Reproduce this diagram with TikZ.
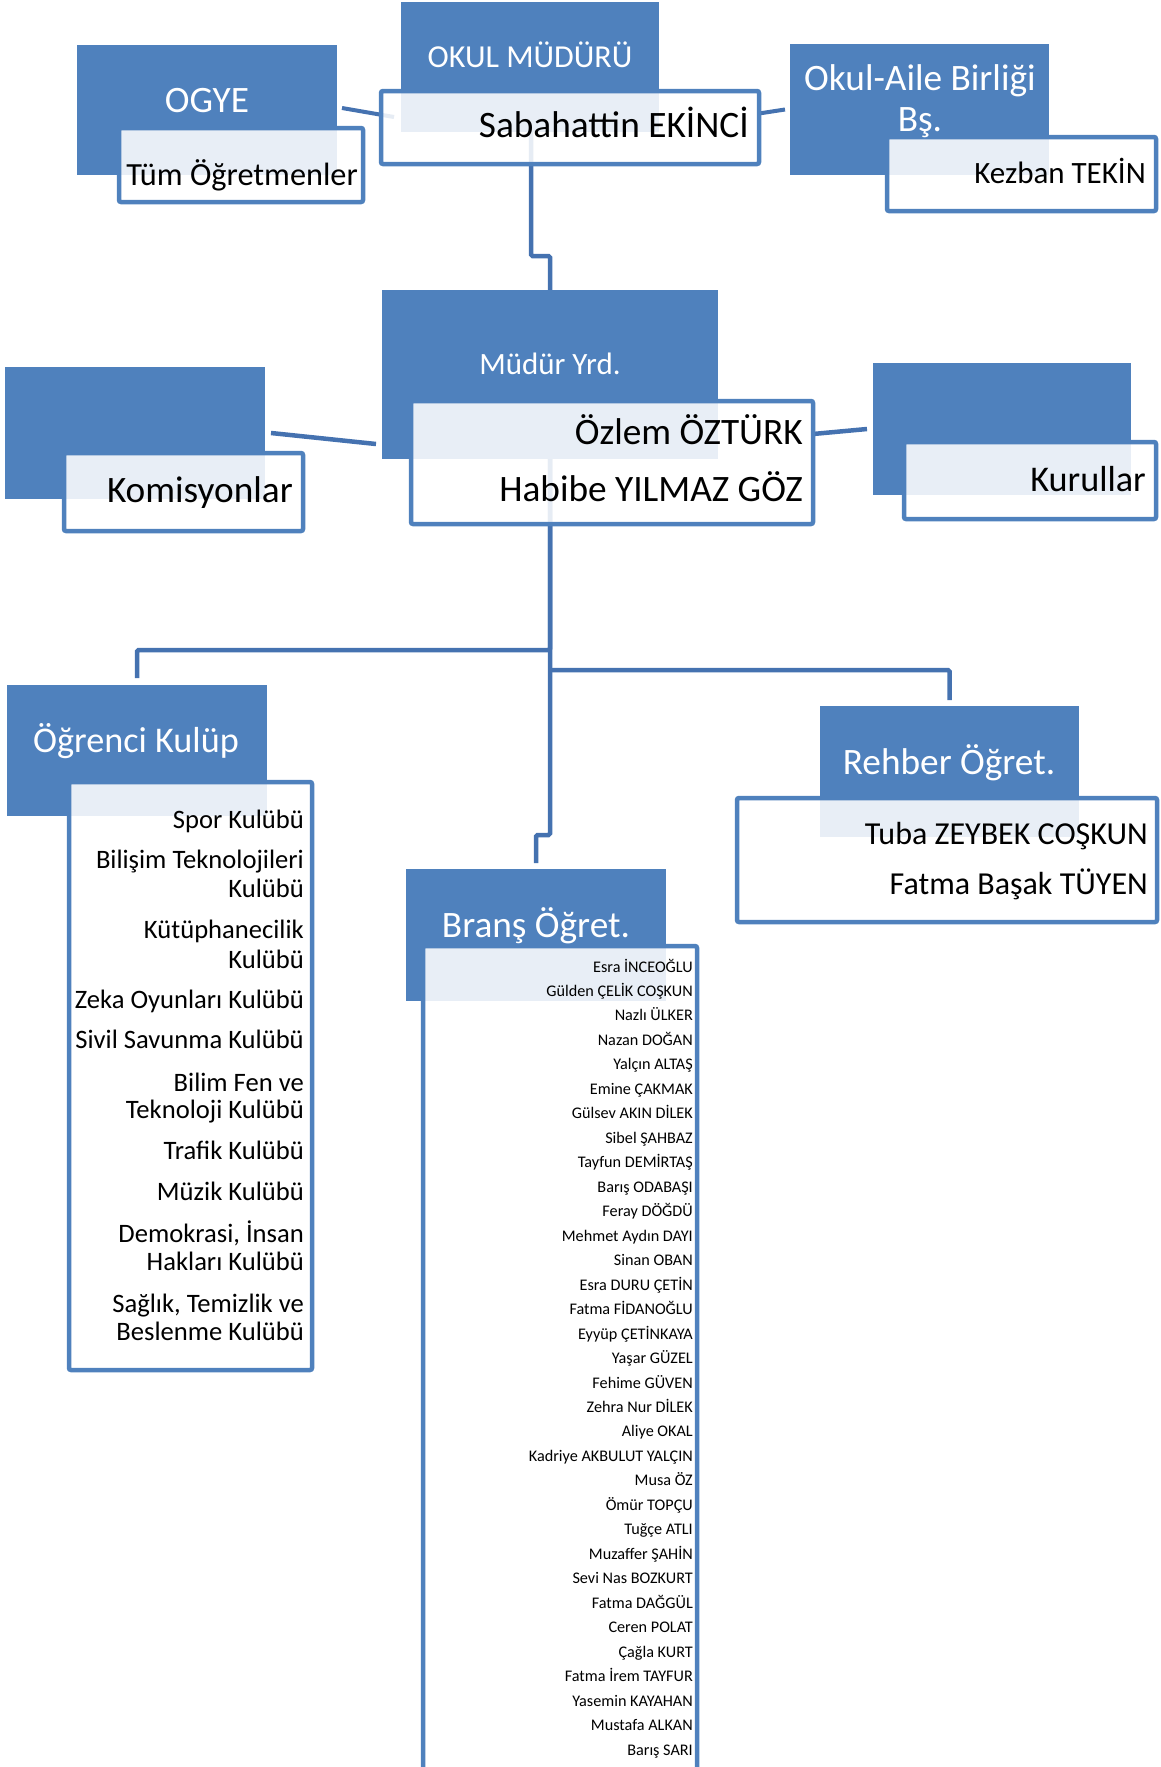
\documentclass[tikz,border=0pt]{standalone}
\usepackage{fontspec}
\setmainfont{Carlito}
\usetikzlibrary{calc,backgrounds}
\definecolor{boxblue}{RGB}{79,129,189}
\definecolor{linkblue}{RGB}{69,114,176}
\newcommand\fsz[1]{\fontsize{#1}{#1}\selectfont}
\newcommand\bx[6]{\node[#1, minimum width={#4-#2}, minimum height={#5-#3}] (#6) at (#2,#3) {};}
\begin{document}
\begin{tikzpicture}[x=1pt,y=-1pt,
  bluebox/.style={fill=boxblue, draw=none, inner sep=0, outer sep=0, anchor=north west},
  whitebox/.style={fill=white, fill opacity=0.87, draw=boxblue, draw opacity=1, line width=4.5pt, rounded corners=2pt, inner sep=0, outer sep=0, anchor=north west},
  link/.style={draw=linkblue, line width=4.5pt, rounded corners=1.5pt},
  head/.style={text=white, inner sep=0, anchor=base},
  txtr/.style={text=black, inner sep=0, anchor=base east},
  club/.style={txtr, font=\fsz{26.6}},
  teacher/.style={txtr, font=\fsz{16.2}}
]
\useasboundingbox (0,0) rectangle (1161,1767);
\clip (0,0) rectangle (1161,1767);
% blue boxes
\bx{bluebox}{401}{2}{659}{132}{okul}
\bx{bluebox}{77}{45}{337}{175}{ogye}
\bx{bluebox}{790}{44}{1049}{175}{oab}
\bx{bluebox}{5}{367}{265}{499}{kom}
\bx{bluebox}{382}{290}{718}{459}{mudur}
\bx{bluebox}{873}{363}{1131}{495}{kur}
\bx{bluebox}{7}{685}{267}{816}{ogr}
\bx{bluebox}{820}{706}{1079}{837}{reh}
\bx{bluebox}{406}{869}{666}{1001}{bra}
% white boxes
\bx{whitebox}{381}{91}{759}{164}{sab}
\bx{whitebox}{119}{128}{363}{202}{tum}
\bx{whitebox}{887}{137}{1156}{211}{kez}
\bx{whitebox}{64}{453}{303}{531}{komw}
\bx{whitebox}{411}{401}{813}{524}{oz}
\bx{whitebox}{904}{442}{1156}{519}{kurw}
\bx{whitebox}{69}{782}{312}{1370}{kl}
\bx{whitebox}{737}{798}{1157}{922}{rhw}
\bx{whitebox}{423}{946}{697}{1800}{bn}
% texts
\node[head, font=\fsz{32}] (t-okul) at (530,67) {OKUL MÜDÜRÜ};
\node[txtr, font=\fsz{37.3}] (t-sab) at (749,137) {Sabahattin EKİNCİ};
\node[head, font=\fsz{37.3}] (t-ogye) at (207,112) {OGYE};
\node[txtr, font=\fsz{32.3}] (t-tum) at (358,185) {Tüm Öğretmenler};
\node[head, font=\fsz{37.3}] (t-oab1) at (920,90) {Okul-Aile Birliği};
\node[head, font=\fsz{37.3}] (t-oab2) at (920,131) {Bş.};
\node[txtr, font=\fsz{31}] (t-kez) at (1146,183) {Kezban TEKİN};
\node[head, font=\fsz{31}] (t-mud) at (550,374) {Müdür Yrd.};
\node[txtr, font=\fsz{37.3}] (t-oz1) at (803,444) {Özlem ÖZTÜRK};
\node[txtr, font=\fsz{37.3}] (t-oz2) at (803,501) {Habibe YILMAZ GÖZ};
\node[txtr, font=\fsz{37.3}] (t-kom) at (293,502) {Komisyonlar};
\node[txtr, font=\fsz{36.2}] (t-kur) at (1146,491) {Kurullar};
\node[head, font=\fsz{36.2}] (t-ogr) at (136,752) {Öğrenci Kulüp};
\node[head, font=\fsz{37.3}] (t-reh) at (949,774) {Rehber Öğret.};
\node[txtr, font=\fsz{32}] (t-tuba) at (1148,844) {Tuba ZEYBEK COŞKUN};
\node[txtr, font=\fsz{32}] (t-fat) at (1148,894) {Fatma Başak TÜYEN};
\node[head, font=\fsz{37.3}] (t-bra) at (536,937) {Branş Öğret.};
% clubs
\node[club] (c1) at (304,828) {Spor Kulübü};
\node[club] (c2a) at (304,868) {Bilişim Teknolojileri};
\node[club] (c2b) at (304,897) {Kulübü};
\node[club] (c3a) at (304,938) {Kütüphanecilik};
\node[club] (c3b) at (304,968) {Kulübü};
\node[club] (c4) at (304,1008) {Zeka Oyunları Kulübü};
\node[club] (c5) at (304,1048) {Sivil Savunma Kulübü};
\node[club] (c6a) at (304,1091) {Bilim Fen ve};
\node[club] (c6b) at (304,1118) {Teknoloji Kulübü};
\node[club] (c7) at (304,1159) {Trafik Kulübü};
\node[club] (c8) at (304,1200) {Müzik Kulübü};
\node[club] (c9a) at (304,1242) {Demokrasi, İnsan};
\node[club] (c9b) at (304,1270) {Hakları Kulübü};
\node[club] (c10a) at (304,1312) {Sağlık, Temizlik ve};
\node[club] (c10b) at (304,1340) {Beslenme Kulübü};
% teachers
\foreach \nm [count=\i] in {Esra İNCEOĞLU, Gülden ÇELİK COŞKUN, Nazlı ÜLKER, Nazan DOĞAN, Yalçın ALTAŞ, Emine ÇAKMAK, Gülsev AKIN DİLEK, Sibel ŞAHBAZ, Tayfun DEMİRTAŞ, Barış ODABAŞI, Feray DÖĞDÜ, Mehmet Aydın DAYI, Sinan OBAN, Esra DURU ÇETİN, Fatma FİDANOĞLU, Eyyüp ÇETİNKAYA, Yaşar GÜZEL, Fehime GÜVEN, Zehra Nur DİLEK, Aliye OKAL, Kadriye AKBULUT YALÇIN, Musa ÖZ, Ömür TOPÇU, Tuğçe ATLI, Muzaffer ŞAHİN, Sevi Nas BOZKURT, Fatma DAĞGÜL, Ceren POLAT, Çağla KURT, Fatma İrem TAYFUR, Yasemin KAYAHAN, Mustafa ALKAN, Barış SARI}
  \node[teacher] (n\i) at (693,{972+24.47*(\i-1)}) {\nm};
% connectors
\begin{scope}[on background layer]
\draw[link, line width=4pt] ($(ogye.east)+(5,-2)$) -- ($(sab.west)+(13,-10.5)$);
\draw[link, line width=4pt] ($(sab.east)+(0,-14)$) -- ($(oab.west)+(-5,0)$);
\draw[link] ([xshift=1pt]okul.center) -- ++(0,189) -| (mudur.center);
\draw[link] ($(kom.east)+(6,0)$) -- ($(mudur.west)+(-6,69.5)$);
\draw[link] ($(oz.east)+(0,-28.5)$) -- ($(kur.west)+(-6,0)$);
\draw[link] (mudur.center) -- ++(0,275.5) -| ($(ogr.north)+(0,-7)$);
\draw[link] ($(mudur.center)+(0,295.5)$) -| ($(reh.north)+(0,-6)$);
\draw[link] (mudur.center) -- ++(0,460.5) -| ($(bra.north)+(0,-6)$);
\end{scope}
\end{tikzpicture}
\end{document}
